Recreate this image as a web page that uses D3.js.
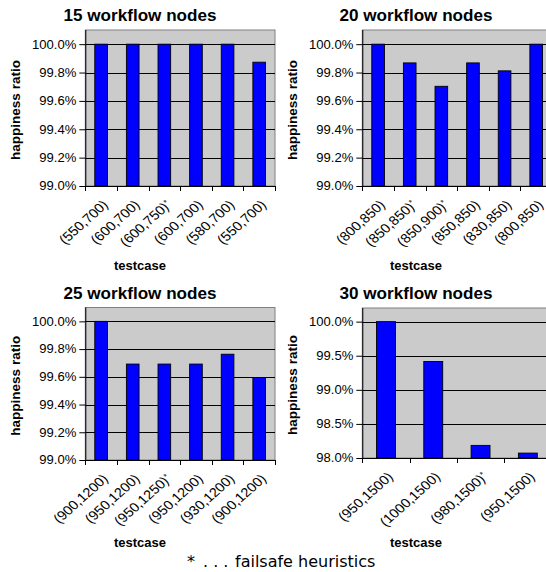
<!DOCTYPE html>
<html>
<head>
<meta charset="utf-8">
<script src="https://cdn.jsdelivr.net/npm/d3@7"></script>
<style>
  html, body { margin: 0; padding: 0; background: #fff; }
  svg { display: block; }
</style>
</head>
<body>
<svg id="chart" width="546" height="572"></svg>
<script>
// Happiness ratio per test case, four workflow sizes
const titles = ["15 workflow nodes", "20 workflow nodes", "25 workflow nodes", "30 workflow nodes"];

const cases15 = ["(550,700)", "(600,700)", "(600,750)*", "(600,700)", "(580,700)", "(550,700)"];
const ratio15 = [1.0, 1.0, 1.0, 1.0, 1.0, 0.99873];

const cases20 = ["(800,850)", "(850,850)*", "(850,900)*", "(850,850)", "(830,850)", "(800,850)"];
const ratio20 = [1.0, 0.99868, 0.99703, 0.99868, 0.99812, 1.0];

const cases25 = ["(900,1200)", "(950,1200)", "(950,1250)*", "(950,1200)", "(930,1200)", "(900,1200)"];
const ratio25 = [1.0, 0.99692, 0.99692, 0.99692, 0.99763, 0.99595];

const cases30 = ["(950,1500)", "(1000,1500)", "(980,1500)*", "(950,1500)"];
const ratio30 = [1.0, 0.99415, 0.98185, 0.98072];

const ticksFine = [0.990, 0.992, 0.994, 0.996, 0.998, 1.000];
const ticksCoarse = [0.980, 0.985, 0.990, 0.995, 1.000];

const yLabel = "happiness ratio";
const xLabel = "testcase";
const footnote = "failsafe heuristics";

// Layout of each panel (plot box in pixels)
const panels = [
  { title: titles[0], cases: cases15, values: ratio15, ticks: ticksFine, domain: [0.99, 1.001],
    x0: 85.3, x1: 275, y0: 30, y1: 186, cx: 140, titleY: 21, yLabX: 20, xLabY: 270 },
  { title: titles[1], cases: cases20, values: ratio20, ticks: ticksFine, domain: [0.99, 1.001],
    x0: 362.3, x1: 552, y0: 30, y1: 186, cx: 416, titleY: 21, yLabX: 296.5, xLabY: 270 },
  { title: titles[2], cases: cases25, values: ratio25, ticks: ticksFine, domain: [0.99, 1.001],
    x0: 85.3, x1: 275, y0: 307.5, y1: 460, cx: 140, titleY: 299, yLabX: 20, xLabY: 546.5 },
  { title: titles[3], cases: cases30, values: ratio30, ticks: ticksCoarse, domain: [0.98, 1.002],
    x0: 362.3, x1: 551.5, y0: 308, y1: 458, cx: 416, titleY: 299, yLabX: 296.5, xLabY: 546.5 }
];

const FONT = "'Liberation Sans', Arial, Helvetica, sans-serif";
// horizontal widening of the sans-serif lettering
const WIDE_TICK = 1.09, WIDE_CAT = 1.12, WIDE_TITLE = 1.07;
const svg = d3.select("#chart");
const fmt = d3.format(".1%");

panels.forEach((p, pi) => {
  const g = svg.append("g");
  const idx = d3.range(p.cases.length);
  const x = d3.scaleBand().domain(idx).range([p.x0, p.x1]).paddingInner(0).paddingOuter(0);
  const y = d3.scaleLinear().domain(p.domain).range([p.y1, p.y0]);
  const bw = x.bandwidth();

  // plot background
  g.append("rect")
    .attr("x", p.x0).attr("y", p.y0)
    .attr("width", p.x1 - p.x0).attr("height", p.y1 - p.y0)
    .attr("fill", "#cbcbcb").attr("stroke", "#808080").attr("stroke-width", 1);

  // horizontal gridlines
  g.selectAll(".grid").data(p.ticks.filter(t => t > p.domain[0])).join("line")
    .attr("x1", p.x0).attr("x2", p.x1)
    .attr("y1", d => Math.round(y(d)) + 0.5).attr("y2", d => Math.round(y(d)) + 0.5)
    .attr("stroke", "#000").attr("stroke-width", 1);

  // bars
  g.selectAll(".bar").data(p.values).join("rect")
    .attr("x", (d, i) => x(i) + bw * 0.3)
    .attr("width", bw * 0.4)
    .attr("y", d => y(d))
    .attr("height", d => y(p.domain[0]) - y(d))
    .attr("fill", "#0000ff").attr("stroke", "#000").attr("stroke-width", 0.9);

  // y axis
  const yAxis = d3.axisLeft(y).tickValues(p.ticks).tickFormat(fmt).tickSize(6).tickSizeOuter(0).tickPadding(3);
  const ya = g.append("g").attr("transform", `translate(${p.x0},0)`).call(yAxis);
  ya.select(".domain").attr("stroke", "#000").attr("d", `M0.5,${p.y0}V${p.y1}`);
  ya.selectAll(".tick line").attr("stroke", "#000");
  ya.selectAll(".tick text").attr("fill", "#000")
    .attr("x", -9 / WIDE_TICK).attr("transform", `scale(${WIDE_TICK},1)`)
    .style("font-family", FONT).style("font-size", "12px");

  // x axis: baseline, ticks at category boundaries
  const bounds = idx.map(i => x(i)).concat([p.x1]);
  g.append("line").attr("x1", p.x0).attr("x2", p.x1)
    .attr("y1", p.y1 + 0.5).attr("y2", p.y1 + 0.5).attr("stroke", "#000");
  g.selectAll(".xt").data(bounds).join("line")
    .attr("x1", d => Math.round(d) + 0.5).attr("x2", d => Math.round(d) + 0.5)
    .attr("y1", p.y1).attr("y2", p.y1 + 5).attr("stroke", "#000");

  // slanted category labels, trailing asterisk raised
  const lab = g.selectAll(".xl").data(p.cases).join("text")
    .attr("transform", (d, i) => `translate(${x(i) + bw / 2 + 0.5},${p.y1 + 13}) scale(${WIDE_CAT},1) rotate(-45)`)
    .attr("text-anchor", "end")
    .attr("dy", "0.72em")
    .style("font-family", FONT).style("font-size", "13px").attr("fill", "#000");
  lab.each(function(d) {
    const t = d3.select(this);
    const star = d.endsWith("*");
    t.append("tspan").text(star ? d.slice(0, -1) : d);
    if (star) t.append("tspan").attr("dy", "-0.45em").style("font-size", "8px").text("*");
  });

  // titles
  g.append("text")
    .attr("transform", `translate(${p.cx},${p.titleY}) scale(${WIDE_TITLE},1)`)
    .attr("text-anchor", "middle")
    .style("font-family", FONT).style("font-size", "16px").style("font-weight", "bold")
    .text(p.title);

  g.append("text")
    .attr("transform", `translate(${p.yLabX},${(p.y0 + p.y1) / 2 + 2}) rotate(-90)`)
    .attr("text-anchor", "middle")
    .style("font-family", FONT).style("font-size", "13.5px").style("font-weight", "bold")
    .text(yLabel);

  g.append("text").attr("x", p.cx).attr("y", p.xLabY)
    .attr("text-anchor", "middle")
    .style("font-family", FONT).style("font-size", "13px").style("font-weight", "bold")
    .text(xLabel);
});

// footnote
const fn = svg.append("text").attr("x", 187).attr("y", 567)
  .style("font-family", "'DejaVu Sans', sans-serif").style("font-size", "16px").attr("fill", "#000");
fn.append("tspan").text("*");
fn.append("tspan").attr("x", 203).text(". . .");
fn.append("tspan").attr("x", 235).text(footnote);
</script>
</body>
</html>
